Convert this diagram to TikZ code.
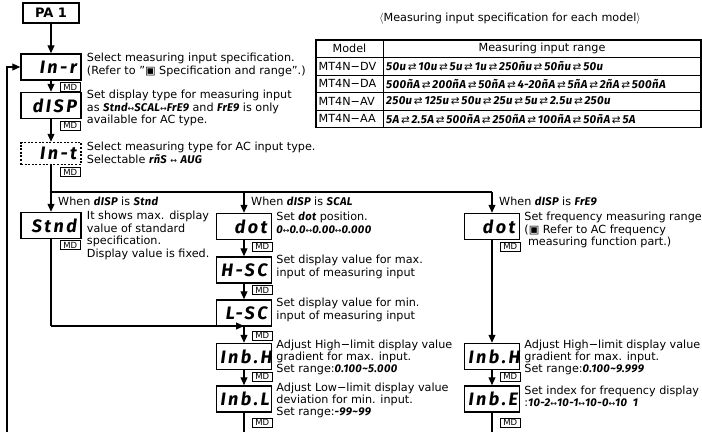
\documentclass[tikz,border=0pt]{standalone}
\usepackage{fontspec}
\setmainfont{DejaVu Sans}
\newfontfamily\segfont{Fira Sans}[LetterSpace=3]
\newfontfamily\dispfont{Fira Sans}[LetterSpace=14]
\usetikzlibrary{arrows.meta, positioning, calc}

\newcommand{\seg}[1]{{\segfont\bfseries\itshape #1}}
\newcommand{\lra}{{\normalfont\fontsize{8}{8}\selectfont ↔}}
\newcommand{\rl}{{\normalfont\fontsize{10.5}{10}\selectfont\,⇄\,}}

\begin{document}
\begin{tikzpicture}[x=1pt, y=-1pt,
  dispbox/.style={draw, line width=1.5pt, text width=52pt, minimum height=26pt,
                  inner xsep=4pt, inner ysep=0pt, align=right,
                  font=\dispfont\bfseries\itshape\fontsize{18}{18}\selectfont},
  narrow/.style={text width=47pt},
  mdbox/.style={draw, line width=0.6pt, inner xsep=3pt, inner ysep=1.5pt,
                font=\fontsize{8.5}{8.5}\selectfont},
  desc/.style={anchor=north west, align=left, inner sep=0pt,
               font=\fontsize{11.2}{12.6}\selectfont},
  cell/.style={inner sep=0pt, font=\fontsize{11.2}{12}\selectfont},
  flow/.style={line width=1.1pt},
  arr/.style={flow, -{Triangle[length=8pt, width=7pt]}},
]
\useasboundingbox (0,0) rectangle (702,432);

% === Parameter group ===
\node[draw, line width=1.3pt, minimum width=56pt, minimum height=20pt, inner sep=0pt,
      font=\bfseries\fontsize{13}{13}\selectfont] (pa) at (51,13) {PA 1};

% === Common part (x = 51) ===
\node[dispbox] (inr)  at (51,67)    {In-r};
\node[dispbox] (disp) at (51,105.5) {dISP};
\node[dispbox, dash pattern=on 2pt off 1.6pt, minimum height=22pt]
  (int) at (51,153.5) {In-t};

\node[mdbox, below right=1.5pt and 9pt of inr.south]  (md-inr)  {MD};
\node[mdbox, below right=1.5pt and 9pt of disp.south] (md-disp) {MD};
\node[mdbox, below right=2pt and 9pt of int.south]    (md-int)  {MD};

\node[desc] (inr-txt) at ([xshift=5pt]inr.north east)
  {Select measuring input specification.\\
   (Refer to "▣ Specification and range".)};
\node[desc] (disp-txt) at ([xshift=5pt, yshift=2pt]disp.north east)
  {Set display type for measuring input\\
   as \seg{Stnd}\lra\seg{SCAL}\lra\seg{FrE9} and \seg{FrE9} is only\\
   available for AC type.};
\node[desc] (int-txt) at ([xshift=5pt]int.north east)
  {Select measuring type for AC input type.\\
   Selectable \seg{rñS} \lra\ \seg{AUG}};

% === Branch labels ===
\node[cell, anchor=west] (when1) at (58,201)  {When \seg{dISP} is \seg{Stnd}};
\node[cell, anchor=west] (when2) at (251,201) {When \seg{dISP} is \seg{SCAL}};
\node[cell, anchor=west] (when3) at (499,201) {When \seg{dISP} is \seg{FrE9}};

% === Stnd branch ===
\node[dispbox] (stnd) at (51,225.5) {Stnd};
\node[mdbox, below right=1pt and 9pt of stnd.south] (md-stnd) {MD};
\node[desc] (stnd-txt) at ([xshift=5pt, yshift=1pt]stnd.north east)
  {It shows max. display\\
   value of standard\\
   specification.\\
   Display value is fixed.};

% === SCAL branch (x = 244) ===
\node[dispbox, narrow] (dot2) at (244,226.5) {dot};
\node[dispbox, narrow] (hsc)  at (244,270)   {H-SC};
\node[dispbox, narrow] (lsc)  at (244,313)   {L-SC};
\node[dispbox, narrow] (inbh) at (244,356.5) {Inb.H};
\node[dispbox, narrow] (inbl) at (244,399)   {Inb.L};

\node[mdbox, below right=1.5pt and 8pt of dot2.south] (md-dot2) {MD};
\node[mdbox, below right=1.5pt and 8pt of hsc.south]  (md-hsc)  {MD};
\node[mdbox, below right=4pt and 8pt of lsc.south]    (md-lsc)  {MD};
\node[mdbox, below right=1.5pt and 8pt of inbh.south] (md-inbh) {MD};
\node[mdbox, below right=5pt and 8pt of inbl.south]   (md-inbl) {MD};

\node[desc] (dot2-txt) at ([xshift=4pt, yshift=1pt]dot2.north east)
  {Set \seg{dot} position.\\
   \seg{0\lra0.0\lra0.00\lra0.000}};
\node[desc] (hsc-txt) at ([xshift=4pt, yshift=1pt]hsc.north east)
  {Set display value for max.\\
   input of measuring input};
\node[desc] (lsc-txt) at ([xshift=4pt, yshift=1pt]lsc.north east)
  {Set display value for min.\\
   input of measuring input};
\node[desc, font=\fontsize{11.2}{12}\selectfont] (inbh-txt)
  at ([xshift=4pt, yshift=3pt]inbh.north east)
  {Adjust High−limit display value\\
   gradient for max. input.\\
   Set range:\seg{0.100\textasciitilde5.000}};
\node[desc, font=\fontsize{11.2}{12}\selectfont] (inbl-txt)
  at ([xshift=4pt, yshift=2pt]inbl.north east)
  {Adjust Low−limit display value\\
   deviation for min. input.\\
   Set range:\seg{-99\textasciitilde99}};

% === FrEq branch (x = 492) ===
\node[dispbox, narrow] (dot3)  at (492,226.5) {dot};
\node[dispbox, narrow] (inbh3) at (492,356.5) {Inb.H};
\node[dispbox, narrow] (inbe)  at (492,399)   {Inb.E};

\node[mdbox, below right=1.5pt and 8pt of dot3.south]  (md-dot3)  {MD};
\node[mdbox, below right=1.5pt and 8pt of inbh3.south] (md-inbh3) {MD};
\node[mdbox, below right=5pt and 8pt of inbe.south]    (md-inbe)  {MD};

\node[desc] (dot3-txt) at ([xshift=4pt, yshift=1pt]dot3.north east)
  {Set frequency measuring range\\
   (▣ Refer to AC frequency\\
   \ measuring function part.)};
\node[desc, font=\fontsize{11.2}{12}\selectfont] (inbh3-txt)
  at ([xshift=4pt, yshift=3pt]inbh3.north east)
  {Adjust High−limit display value\\
   gradient for max. input.\\
   Set range:\seg{0.100\textasciitilde9.999}};
\node[desc, font=\fontsize{11.2}{12}\selectfont] (inbe-txt)
  at ([xshift=4pt, yshift=-1pt]inbe.north east)
  {Set index for frequency display\\
   :\seg{10-2\lra10-1\lra10-0\lra10\ \ 1}};

% === Table of input ranges ===
\node[cell] (tab-title) at (510,19)
  {$\langle$Measuring input specification for each model$\rangle$};
\draw[line width=1.4pt] (316,40) rectangle (701,127.5);
\draw[line width=0.7pt] (383,40) -- (383,127.5);
\foreach \y in {57.5,75,92.5,110}
  \draw[line width=0.7pt] (316,\y) -- (701,\y);

\node[cell] (h-model) at (349.5,48.75) {Model};
\node[cell] (h-range) at (542,48.75)   {Measuring input range};
\node[cell, anchor=west] (m-dv) at (318.5,66.25)  {MT4N−DV};
\node[cell, anchor=west] (m-da) at (318.5,83.75)  {MT4N−DA};
\node[cell, anchor=west] (m-av) at (318.5,101.25) {MT4N−AV};
\node[cell, anchor=west] (m-aa) at (318.5,118.75) {MT4N−AA};
\node[cell, anchor=west, font=\fontsize{11.5}{12}\selectfont] (r-dv) at (386,66.25)
  {\seg{50u\rl10u\rl5u\rl1u\rl250ñu\rl50ñu\rl50u}};
\node[cell, anchor=west, font=\fontsize{11.5}{12}\selectfont] (r-da) at (386,83.75)
  {\seg{500ñA\rl200ñA\rl50ñA\rl4-20ñA\rl5ñA\rl2ñA\rl500ñA}};
\node[cell, anchor=west, font=\fontsize{11.5}{12}\selectfont] (r-av) at (386,101.25)
  {\seg{250u\rl125u\rl50u\rl25u\rl5u\rl2.5u\rl250u}};
\node[cell, anchor=west, font=\fontsize{11.5}{12}\selectfont] (r-aa) at (386,118.75)
  {\seg{5A\rl2.5A\rl500ñA\rl250ñA\rl100ñA\rl50ñA\rl5A}};

% === Flow ===
\coordinate (split) at (51,192);
\coordinate (join)  at (51,326);
\coordinate (loopb) at (7,432);

\draw[arr] (pa) -- (inr);
\draw[arr] (inr) -- (disp);
\draw[arr] (disp) -- (int);
\draw[arr] (int) -- (stnd);
\draw[flow] (split) -- (split -| dot3);
\draw[arr] (split -| dot2) -- (dot2);
\draw[arr] (split -| dot3) -- (dot3);

\draw[flow] (stnd) -- (join);
\draw[arr] (join) -- (join -| inbh);
\draw[arr] (dot2) -- (hsc);
\draw[arr] (hsc) -- (lsc);
\draw[arr] (lsc) -- (inbh);
\draw[arr] (inbh) -- (inbl);
\draw[flow] (inbl) -- (inbl |- loopb);

\draw[arr] (dot3) -- (inbh3);
\draw[arr] (inbh3) -- (inbe);
\draw[flow] (inbe) -- (inbe |- loopb);

% back to the first parameter
\draw[arr] (loopb) |- (inr);

\end{tikzpicture}
\end{document}
